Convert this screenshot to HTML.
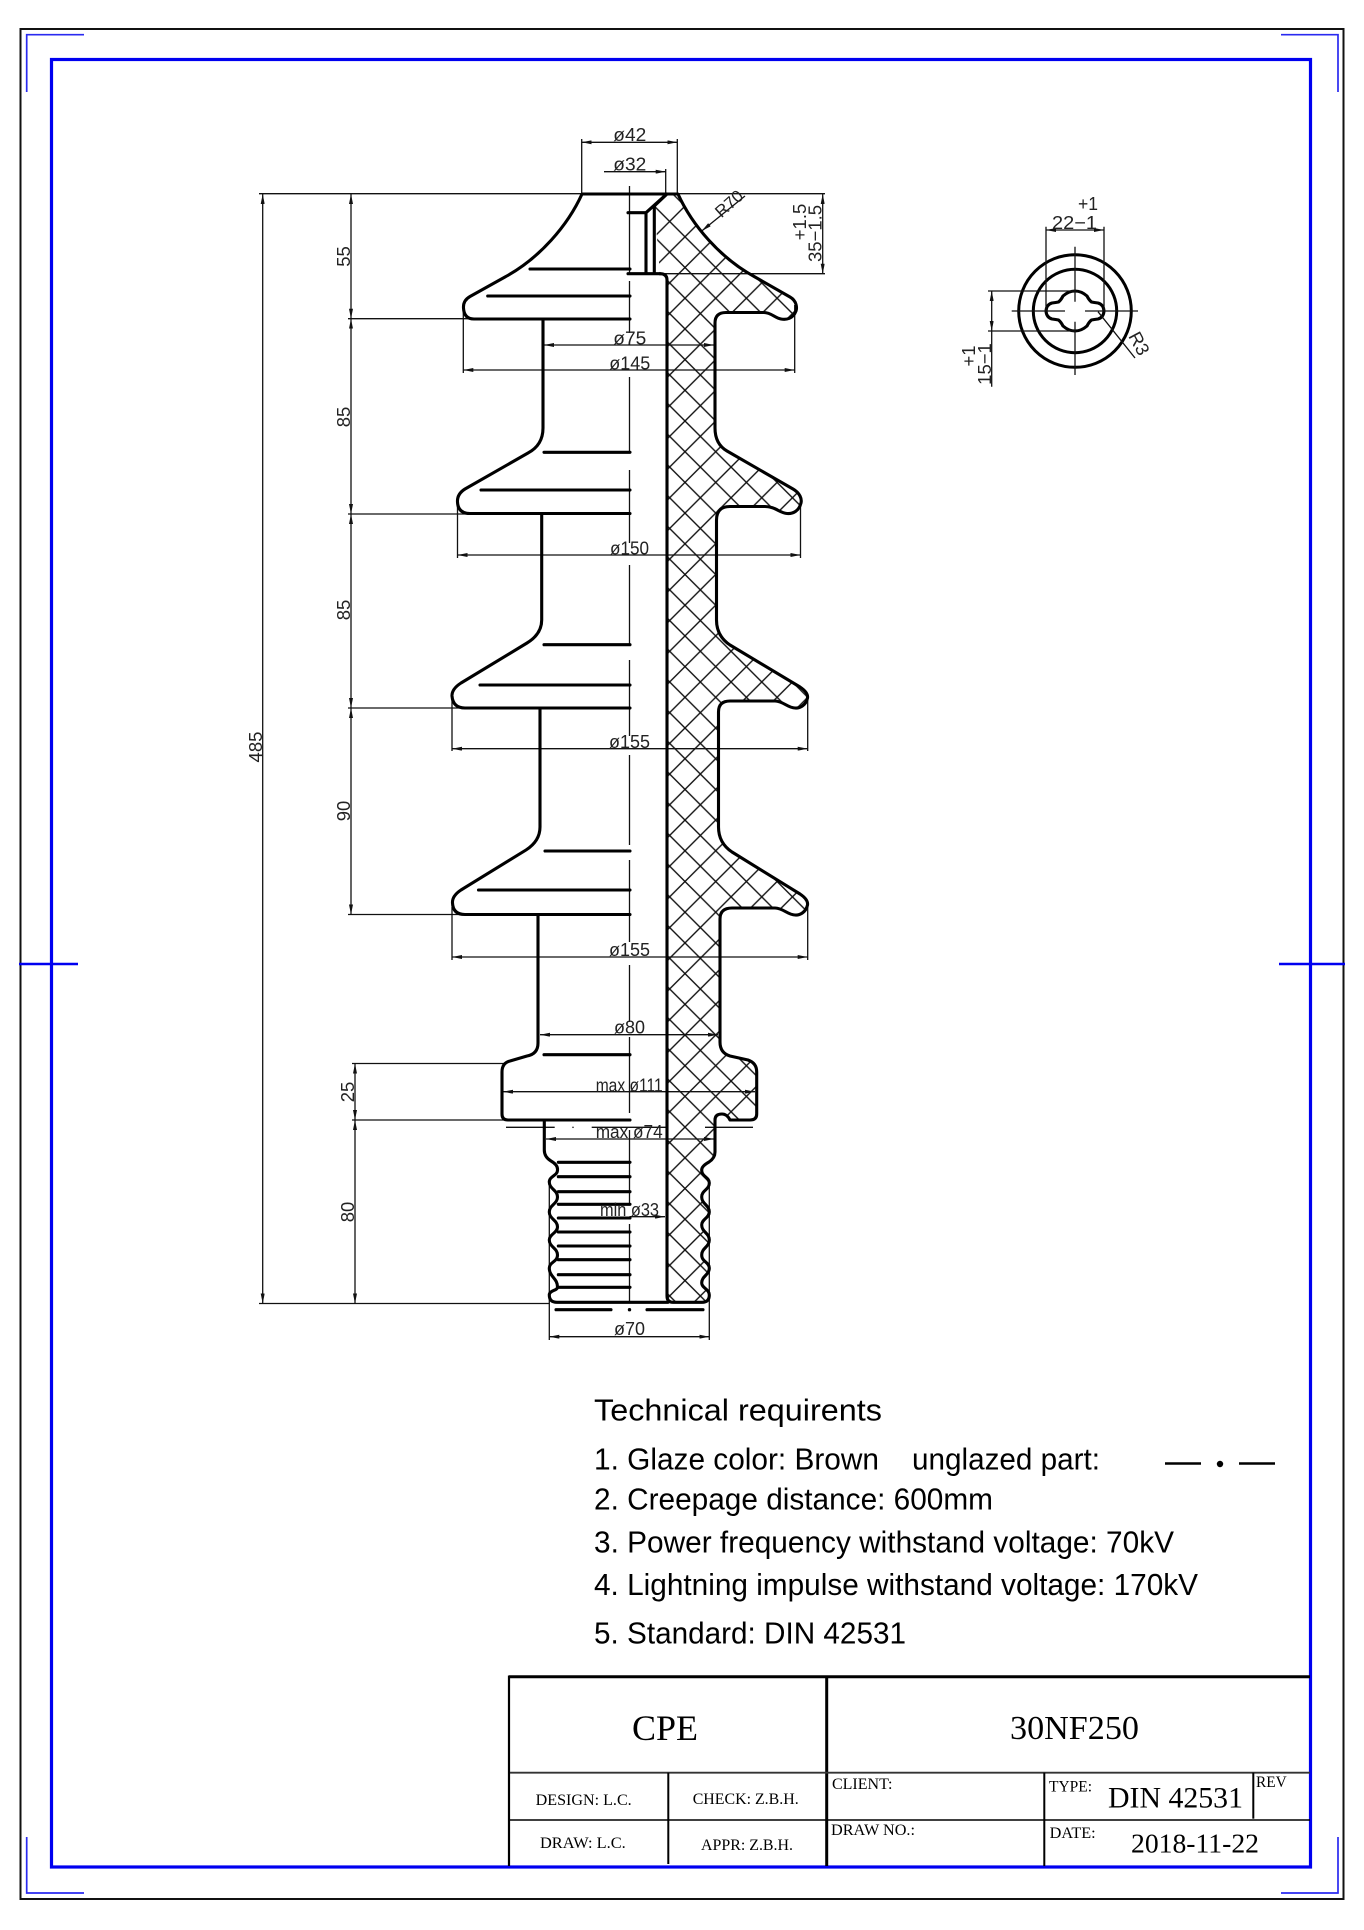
<!DOCTYPE html>
<html>
<head>
<meta charset="utf-8">
<title>30NF250</title>
<style>
html,body{margin:0;padding:0;background:#fff;width:1364px;height:1930px;overflow:hidden}
svg{display:block;position:absolute;left:0;top:0}
.b{fill:none;stroke:#000;stroke-width:3.1;stroke-linejoin:round;stroke-linecap:round}
.t{fill:none;stroke:#111;stroke-width:1.3}
.a{fill:none;stroke:#111;stroke-width:1.3;marker-start:url(#ar);marker-end:url(#ar)}
.e{fill:none;stroke:#111;stroke-width:1.3;marker-end:url(#ar)}
.d{font-family:"Liberation Sans",sans-serif;font-size:18.5px;fill:#222}
.r{font-family:"Liberation Sans",sans-serif;font-size:18.5px;fill:#222}
.s{font-family:"Liberation Serif",serif;fill:#000}
.m{font-family:"Liberation Sans",sans-serif;font-size:31px;fill:#000}
</style>
</head>
<body>
<svg width="1364" height="1930" viewBox="0 0 1364 1930" xmlns="http://www.w3.org/2000/svg">
<defs>
<marker id="ar" viewBox="0 0 10 4" refX="10" refY="2" markerWidth="10" markerHeight="4" markerUnits="userSpaceOnUse" orient="auto-start-reverse"><path d="M0 0L10 2L0 4Z" fill="#111"/></marker>
<pattern id="hatch" patternUnits="userSpaceOnUse" width="30.7" height="30.7" patternTransform="translate(685 451.7)">
<path d="M0 0L30.7 30.7M0 30.7L30.7 0" stroke="#111" stroke-width="1.4" fill="none"/>
</pattern>
</defs>
<rect width="1364" height="1930" fill="#fff"/>

<!-- frames -->
<rect x="20.5" y="29" width="1323" height="1870" fill="none" stroke="#111" stroke-width="2"/>
<rect x="51.5" y="59.5" width="1259" height="1807.5" fill="none" stroke="#0000f0" stroke-width="3.2"/>
<g fill="none" stroke="#2a2af0" stroke-width="1.7">
<path d="M84 34.7H26.7V92"/>
<path d="M1281 34.7H1338V92"/>
<path d="M84 1893H26.7V1837"/>
<path d="M1281 1893H1338V1837"/>
</g>
<path d="M19 964H78M1279 964H1345" stroke="#0000f0" stroke-width="2.4" fill="none"/>

<!-- thin dimension/extension lines -->
<g class="t">
<path d="M259 193.7H582M677 193.7H825M655 273.7H825"/>
<path d="M348 318.7H473M348 514H468M348 708H463M259 1303.5H549M352 1063.5H505M352 1120H506M348 914.5H465"/>
<path d="M581.7 139V194M677.3 139V194M665.7 169V194"/>
<path d="M463.3 305V373M794.7 305V373M457.5 505V558M800.5 505V558M452 700V751M807.7 700V751M452 907V960M807.7 907V960"/>
<path d="M549.3 1185V1340M709.3 1185V1340"/>
<!-- centreline -->
<path d="M629.5 186V273M629.5 281V333M629.5 377V453M629.5 470V543M629.5 565V645M629.5 660V736M629.5 755V845M629.5 860V942M629.5 965V1022M629.5 1037V1113M629.5 1130V1205M629.5 1224V1302"/>
<!-- thin centre dashes -->
<path d="M506 1127.3H554.7M591.7 1127.3H666.7M705 1127.3H753"/>
</g>
<circle cx="573" cy="1127.3" r="0.8" fill="#222"/>

<g>
<path class="a" d="M581.7 142.3H677.3"/>
<path class="e" d="M604 171.7H665.7"/>
<path class="a" d="M544 345H714"/>
<path class="a" d="M463.3 370H794.7"/>
<path class="a" d="M457.5 555H800.5"/>
<path class="a" d="M452 748.7H807.7"/>
<path class="a" d="M452 957H807.7"/>
<path class="a" d="M540 1034.7H718"/>
<path class="a" d="M503 1091.7H755"/>
<path class="a" d="M546 1139H714"/>
<path class="e" d="M629.5 1216.7H665"/>
<path class="a" d="M549.3 1336.7H709.3"/>
<path class="a" d="M262.7 194V1303.5"/>
<path class="a" d="M351 194V318.7"/>
<path class="a" d="M351 318.7V514"/>
<path class="a" d="M351 514V708"/>
<path class="a" d="M351 708V914.5"/>
<path class="a" d="M355 1063.5V1120"/>
<path class="a" d="M355 1120V1303.5"/>
<path class="a" d="M822.7 194V273.7"/>
<path class="e" d="M745 196L701.7 231"/>
</g>

<!-- main bold outlines, right half (hatched) -->
<path class="b" style="fill:url(#hatch)" d="M654.3 206L667 194L678 194C692 225 720 258 755 277L790 297C797 301 797 308 796 311C793 319 786 320 781 319C775 318 771 312.5 764 312.5L726 312.5Q715 312.5 715 323L715 428Q715 444 727 451L793 489C800 493 802 499 801 503C799 511 793 514 787 513.5C780 513 775 506.5 765 506.5L730 506.5Q716.5 506.5 716.5 520L716.5 620Q716.5 636 730 645L800 687C806 691 808 695 807.5 698C806 705 800 708.5 795 708C788 708 783 701 775 701L730 701Q718.5 701 718.5 712L718.5 827Q718.5 843 732 852L800 894C806 898 808 902 807.5 905C806 912 800 915.5 795 915C788 915 783 908 775 908L732 908Q720 908 720 919L720 1042Q720 1053 730 1056L748 1060Q756.7 1063 756.7 1072L756.7 1114Q756.7 1120 750 1120L730 1120Q727 1114 722 1114Q715 1114 715 1120L715 1152Q715 1158 709 1162Q701.7 1166 701.7 1170C701.7 1177 709.3 1177 709.3 1183C709.3 1190 701.7 1190 701.7 1197C701.7 1204 709.3 1205 709.3 1212C709.3 1218 701.7 1219 701.7 1225C701.7 1232 709.3 1233 709.3 1240C709.3 1247 701.7 1248 701.7 1255C701.7 1262 709.3 1262 709.3 1268C709.3 1275 701.7 1276 701.7 1283C701.7 1288 709.3 1289 709.3 1295Q709.3 1302.3 702 1302.3L673 1302.3Q667 1302.3 667 1296L667 280Q667 273.7 660 273.7"/>
<path class="b" d="M628 212.7H646L666.7 194M646 212.7V273.7M654.3 206V273.7M628 273.7H660"/>

<!-- main bold outlines, left half -->
<path class="b" d="M667 194H582C568 225 540 258 505 277L470 296.5Q463 300.5 463.5 308Q464 319 474 319L630 319"/>
<path class="b" d="M543 319L543 428Q543 445 528 453L465 489Q457 494 457.5 502Q458 513.5 470 513.5L630 513.5"/>
<path class="b" d="M541.7 513.5L541.7 620Q541.7 634 527 643L461 683Q451.7 689 452 696Q453 708 465 708L630 708"/>
<path class="b" d="M540 708L540 827Q540 841 526 850L461 890Q452 896 452.5 903Q453 914.5 465 914.5L630 914.5"/>
<path class="b" d="M538 915L538 1043Q538 1054 527 1056L510 1061Q502 1063 502 1072L502 1114Q502 1120 508 1120L630 1120"/>
<path class="b" d="M544.3 1120L544.3 1150Q544.3 1157 551 1161Q558 1165 557.5 1170C557.5 1176 549.3 1176 549.3 1182C549.3 1189 557.5 1190 557.5 1197C557.5 1204 549.3 1205 549.3 1212C549.3 1219 557.5 1220 557.5 1227C557.5 1233 549.3 1234 549.3 1240C549.3 1247 557.5 1248 557.5 1255C557.5 1262 549.3 1262 549.3 1268C549.3 1277 557.5 1278 557.5 1287C557.5 1291 549.3 1290 549.3 1295Q549.3 1302.3 557 1302.3L668 1302.3"/>
<!-- inner horizontal lines -->
<path class="b" d="M530 269H630M487.7 296H630M544 452.3H630M481 490H630M544 644.7H630M480 685H630M545 851H630M478.5 890H630M544 1054.7H630"/>
<path class="b" d="M558.3 1162.3H630M558.3 1176.7H630M558.3 1191.7H630M558.3 1204.3H630M558.3 1218H630M558.3 1232H630M558.3 1246H630M558.3 1259.7H630M558.3 1274.7H630M558.3 1287.3H630"/>
<path class="b" d="M556 1309.7H611M647 1309.7H703"/>
<circle cx="629.5" cy="1309.7" r="1.7" fill="#000"/>

<!-- dimension text -->
<g class="d">
<text x="613.3" y="141" textLength="33" lengthAdjust="spacingAndGlyphs">ø42</text>
<text x="613.3" y="170.5" textLength="33" lengthAdjust="spacingAndGlyphs">ø32</text>
<text x="613.3" y="344.5" textLength="33" lengthAdjust="spacingAndGlyphs">ø75</text>
<text x="609.3" y="369.5" textLength="41" lengthAdjust="spacingAndGlyphs">ø145</text>
<text x="610" y="554.5" textLength="39" lengthAdjust="spacingAndGlyphs">ø150</text>
<text x="609" y="748" textLength="41" lengthAdjust="spacingAndGlyphs">ø155</text>
<text x="609" y="956" textLength="41" lengthAdjust="spacingAndGlyphs">ø155</text>
<text x="614" y="1033.5" textLength="31" lengthAdjust="spacingAndGlyphs">ø80</text>
<text x="595.7" y="1091.7" textLength="67" lengthAdjust="spacingAndGlyphs">max ø111</text>
<text x="595.7" y="1138" textLength="67" lengthAdjust="spacingAndGlyphs">max ø74</text>
<text x="600" y="1216" textLength="59" lengthAdjust="spacingAndGlyphs">min ø33</text>
<text x="614" y="1335" textLength="31" lengthAdjust="spacingAndGlyphs">ø70</text>
</g>
<g class="r" text-anchor="middle">
<text transform="translate(262 747) rotate(-90)">485</text>
<text transform="translate(350 256.5) rotate(-90)">55</text>
<text transform="translate(350 417) rotate(-90)">85</text>
<text transform="translate(350 610) rotate(-90)">85</text>
<text transform="translate(350 811) rotate(-90)">90</text>
<text transform="translate(354 1092) rotate(-90)">25</text>
<text transform="translate(354 1212) rotate(-90)">80</text>
<text transform="translate(821.7 233.5) rotate(-90)">35−1.5</text>
<text transform="translate(806 222) rotate(-90)">+1.5</text>
<text transform="translate(733 208) rotate(-42)" style="font-size:17px">R70</text>
</g>

<!-- section view -->
<circle cx="1075" cy="311" r="56.3" fill="none" stroke="#000" stroke-width="3"/>
<circle cx="1075" cy="311" r="41.7" fill="none" stroke="#000" stroke-width="3"/>
<path class="b" d="M1046 311Q1046.5 304.5 1052 303Q1056 302.5 1058.5 302Q1061 300 1063 296C1067 292.5 1071 291 1075 291C1079 291 1083 292.5 1087 296Q1089 300 1091.5 302Q1094 302.5 1098 303Q1103.5 304.5 1104 311Q1103.5 317.5 1098 319Q1094 319.5 1091.5 320Q1089 322 1087 326C1083 329.5 1079 331 1075 331C1071 331 1067 329.5 1063 326Q1061 322 1058.5 320Q1056 319.5 1052 319Q1046.5 317.5 1046 311Z"/>
<g class="t">
<path d="M1011.7 311H1065M1085 311H1138M1075 246.7V301.7M1075 321.7V375"/>
<path d="M1046 226.7V311M1104 226.7V311M988 291H1075M988 331H1075M1098 311.7L1135 358M991.7 331V386.7"/>
</g>
<path class="a" d="M1046 230H1104"/>
<path class="a" d="M991.7 291V331"/>
<g class="r">
<text x="1052" y="229" textLength="45" lengthAdjust="spacingAndGlyphs">22−1</text>
<text x="1078" y="210" textLength="20" lengthAdjust="spacingAndGlyphs">+1</text>
<text transform="translate(991 364) rotate(-90)" text-anchor="middle">15−1</text>
<text transform="translate(975 356) rotate(-90)" text-anchor="middle">+1</text>
<text transform="translate(1128 336) rotate(62)">R3</text>
</g>

<!-- requirements -->
<g class="m">
<text x="594" y="1420.7" textLength="288" lengthAdjust="spacingAndGlyphs">Technical requirents</text>
<text x="594" y="1469.3" textLength="285" lengthAdjust="spacingAndGlyphs">1. Glaze color: Brown</text>
<text x="912" y="1469.3" textLength="188" lengthAdjust="spacingAndGlyphs">unglazed part:</text>
<text x="594" y="1509.3" textLength="399" lengthAdjust="spacingAndGlyphs">2. Creepage distance: 600mm</text>
<text x="594" y="1552.3" textLength="580" lengthAdjust="spacingAndGlyphs">3. Power frequency withstand voltage: 70kV</text>
<text x="594" y="1595" textLength="604" lengthAdjust="spacingAndGlyphs">4. Lightning impulse withstand voltage: 170kV</text>
<text x="594" y="1643.3" textLength="312" lengthAdjust="spacingAndGlyphs">5. Standard: DIN 42531</text>
</g>
<path d="M1165 1463.5H1201M1239 1463.5H1275" stroke="#000" stroke-width="2.4" fill="none"/>
<circle cx="1220" cy="1464" r="3.2" fill="#000"/>

<!-- title block -->
<g fill="none" stroke="#000">
<path d="M509 1676.7H1310" stroke-width="3"/>
<path d="M509 1675.5V1866" stroke-width="2.2"/>
<path d="M826.7 1675.5V1866" stroke-width="3"/>
<path d="M510 1772.7H1310" stroke-width="1.8" stroke="#333"/>
<path d="M510 1820H1310" stroke-width="1.6"/>
<path d="M668.3 1772.7V1864" stroke-width="2"/>
<path d="M1044.3 1772.7V1866" stroke-width="2"/>
<path d="M1253.3 1772.7V1818.7" stroke-width="2"/>
</g>
<g class="s">
<text x="632" y="1740" textLength="66" lengthAdjust="spacingAndGlyphs" font-size="36">CPE</text>
<text x="1010" y="1739" textLength="129" lengthAdjust="spacingAndGlyphs" font-size="34">30NF250</text>
<text x="1049" y="1791.7" textLength="43" lengthAdjust="spacingAndGlyphs" font-size="16">TYPE:</text>
<text x="1108" y="1807.3" textLength="135" lengthAdjust="spacingAndGlyphs" font-size="29.3">DIN 42531</text>
<text x="1256" y="1787" textLength="30.7" lengthAdjust="spacingAndGlyphs" font-size="15.3">REV</text>
<text x="1049.7" y="1838" textLength="46" lengthAdjust="spacingAndGlyphs" font-size="15.6">DATE:</text>
<text x="1131" y="1852.7" textLength="128" lengthAdjust="spacingAndGlyphs" font-size="27.2">2018-11-22</text>
<text x="832" y="1789" textLength="60.5" lengthAdjust="spacingAndGlyphs" font-size="15.8">CLIENT:</text>
<text x="831" y="1835" textLength="84" lengthAdjust="spacingAndGlyphs" font-size="16">DRAW NO.:</text>
<text x="535.7" y="1805" textLength="96" lengthAdjust="spacingAndGlyphs" font-size="16">DESIGN: L.C.</text>
<text x="692.7" y="1804" textLength="106" lengthAdjust="spacingAndGlyphs" font-size="16">CHECK: Z.B.H.</text>
<text x="540" y="1848" textLength="85.7" lengthAdjust="spacingAndGlyphs" font-size="16">DRAW: L.C.</text>
<text x="701" y="1850" textLength="92" lengthAdjust="spacingAndGlyphs" font-size="16">APPR: Z.B.H.</text>
</g>
</svg>
</body>
</html>
